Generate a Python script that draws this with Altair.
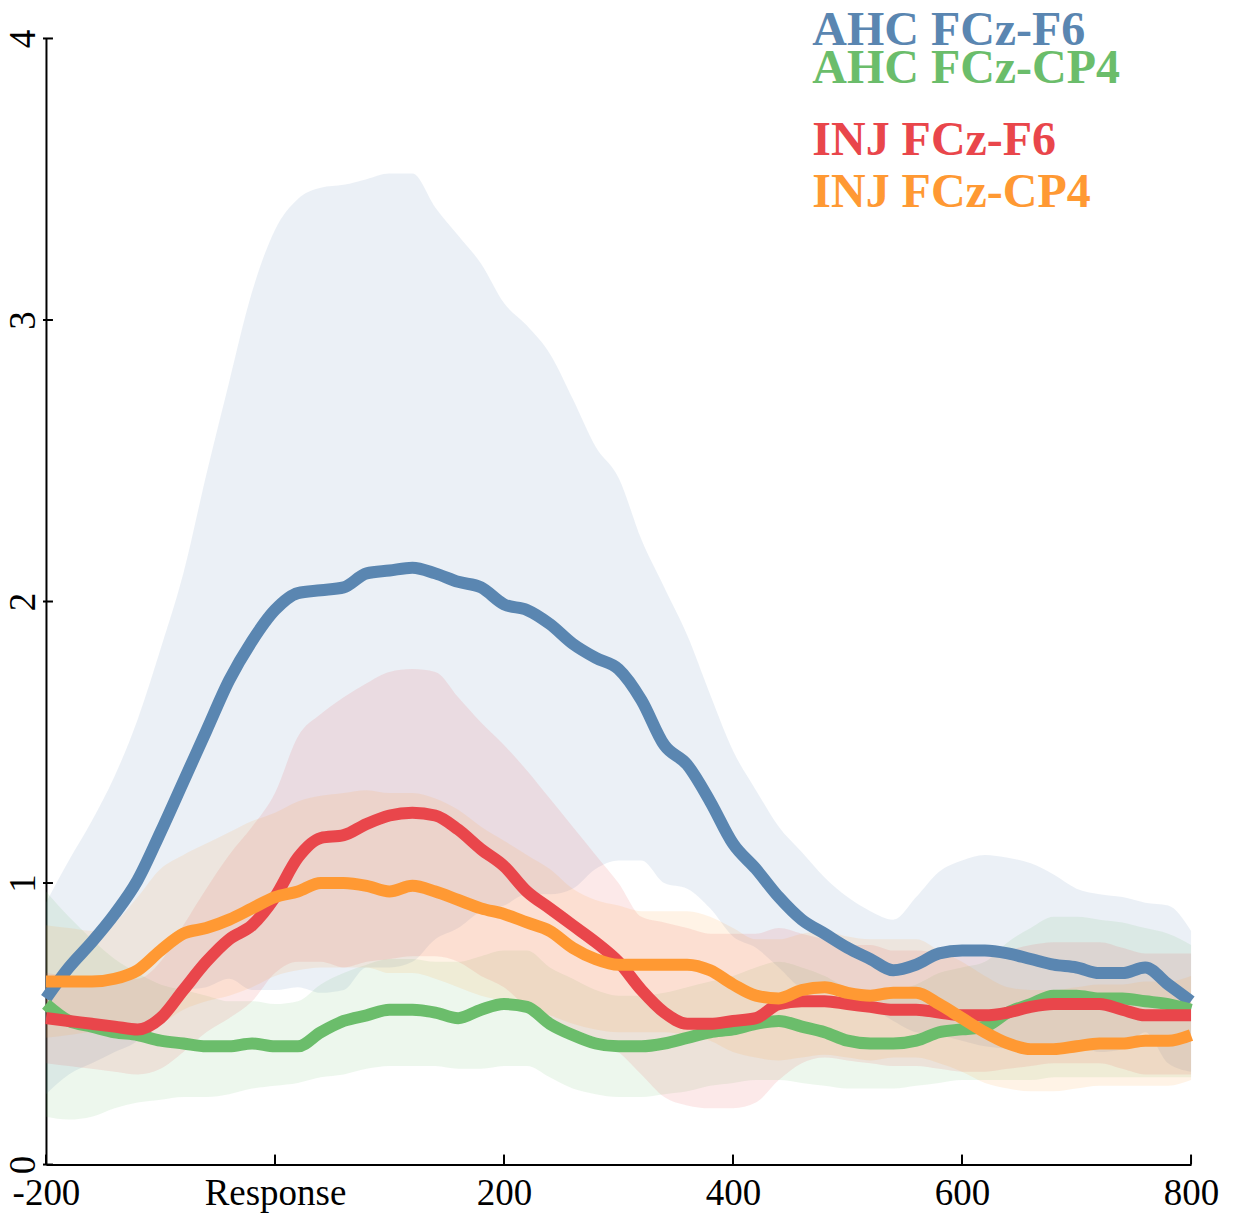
import altair as alt
import pandas as pd

# time grid (ms)
t = list(range(-200, 801, 20))

series_names = ["AHC FCz-F6", "AHC FCz-CP4", "INJ FCz-F6", "INJ FCz-CP4"]
series_colors = ["#5A86B1", "#6BBD6B", "#E9464B", "#FF9933"]

ahc_f6_mean = [0.59,0.70,0.79,0.89,1.01,1.18,1.36,1.54,1.72,1.86,1.97,2.03,2.04,2.05,2.10,2.11,2.12,2.10,2.07,2.05,
               1.99,1.97,1.92,1.85,1.80,1.76,1.65,1.49,1.42,1.29,1.14,1.05,0.95,0.87,0.82,0.77,0.73,0.69,0.71,0.75,
               0.76,0.76,0.75,0.73,0.71,0.70,0.68,0.68,0.70,0.64,0.58]
ahc_f6_hi = [0.93,1.08,1.22,1.38,1.58,1.83,2.10,2.45,2.78,3.10,3.32,3.43,3.47,3.48,3.50,3.52,3.52,3.40,3.30,3.20,
             3.06,2.98,2.88,2.72,2.55,2.44,2.22,2.05,1.88,1.67,1.47,1.33,1.20,1.11,1.02,0.95,0.90,0.87,0.95,1.04,
             1.08,1.10,1.09,1.07,1.03,0.98,0.96,0.95,0.93,0.92,0.83]
ahc_f6_lo = [0.25,0.32,0.36,0.40,0.44,0.53,0.62,0.63,0.66,0.62,0.62,0.63,0.61,0.62,0.70,0.70,0.72,0.80,0.84,0.90,
             0.92,0.96,0.96,0.98,1.05,1.08,1.08,1.00,0.98,0.91,0.81,0.77,0.70,0.63,0.62,0.59,0.56,0.51,0.47,0.46,
             0.44,0.42,0.41,0.39,0.39,0.42,0.40,0.41,0.47,0.36,0.33]

ahc_cp4_mean = [0.57,0.51,0.49,0.47,0.46,0.44,0.43,0.42,0.42,0.43,0.42,0.42,0.47,0.51,0.53,0.55,0.55,0.54,0.52,0.55,
                0.57,0.56,0.50,0.46,0.43,0.42,0.42,0.43,0.45,0.47,0.48,0.50,0.51,0.49,0.47,0.44,0.43,0.43,0.44,0.47,
                0.48,0.49,0.54,0.57,0.60,0.60,0.59,0.59,0.58,0.57,0.55]
ahc_cp4_hi = [0.97,0.88,0.80,0.73,0.68,0.64,0.62,0.60,0.58,0.58,0.57,0.58,0.64,0.68,0.71,0.73,0.73,0.72,0.72,0.74,
              0.76,0.76,0.70,0.66,0.62,0.60,0.60,0.61,0.63,0.65,0.67,0.70,0.72,0.70,0.67,0.63,0.62,0.62,0.64,0.68,
              0.70,0.72,0.79,0.84,0.88,0.88,0.87,0.86,0.84,0.82,0.78]
ahc_cp4_lo = [0.17,0.16,0.17,0.20,0.22,0.23,0.24,0.24,0.25,0.27,0.28,0.29,0.31,0.32,0.34,0.35,0.35,0.35,0.34,0.34,
              0.35,0.35,0.31,0.27,0.25,0.24,0.24,0.25,0.26,0.28,0.29,0.30,0.30,0.29,0.28,0.27,0.27,0.27,0.28,0.29,
              0.30,0.30,0.30,0.30,0.31,0.31,0.31,0.31,0.31,0.31,0.31]

inj_f6_mean = [0.52,0.51,0.50,0.49,0.48,0.52,0.62,0.72,0.80,0.85,0.95,1.09,1.16,1.17,1.21,1.24,1.25,1.24,1.19,1.12,
               1.06,0.97,0.91,0.85,0.79,0.72,0.62,0.54,0.50,0.50,0.51,0.52,0.57,0.58,0.58,0.57,0.56,0.55,0.55,0.54,
               0.53,0.53,0.54,0.56,0.57,0.57,0.57,0.55,0.53,0.53,0.53]
inj_f6_hi = [0.68,0.67,0.66,0.66,0.66,0.72,0.85,0.98,1.10,1.20,1.32,1.52,1.60,1.66,1.71,1.75,1.76,1.75,1.66,1.57,
             1.49,1.40,1.30,1.20,1.10,1.00,0.88,0.86,0.84,0.82,0.82,0.82,0.84,0.82,0.80,0.78,0.78,0.76,0.76,0.75,
             0.74,0.74,0.76,0.78,0.79,0.79,0.79,0.77,0.75,0.75,0.75]
inj_f6_lo = [0.36,0.35,0.34,0.33,0.32,0.34,0.40,0.47,0.52,0.58,0.68,0.72,0.72,0.70,0.72,0.73,0.74,0.74,0.72,0.67,
             0.63,0.56,0.52,0.48,0.45,0.40,0.32,0.24,0.21,0.20,0.20,0.22,0.30,0.36,0.38,0.37,0.36,0.35,0.35,0.34,
             0.33,0.33,0.34,0.35,0.36,0.36,0.36,0.34,0.32,0.32,0.32]

inj_cp4_mean = [0.65,0.65,0.65,0.66,0.69,0.76,0.82,0.84,0.87,0.91,0.95,0.97,1.00,1.00,0.99,0.97,0.99,0.97,0.94,0.91,
                0.89,0.86,0.83,0.77,0.73,0.71,0.71,0.71,0.71,0.69,0.64,0.60,0.59,0.62,0.63,0.61,0.60,0.61,0.61,0.57,
                0.52,0.47,0.43,0.41,0.41,0.42,0.43,0.43,0.44,0.44,0.46]
inj_cp4_hi = [0.85,0.84,0.83,0.86,0.95,1.05,1.10,1.14,1.18,1.22,1.25,1.29,1.31,1.32,1.33,1.32,1.32,1.30,1.26,1.20,
              1.15,1.10,1.05,0.98,0.94,0.92,0.90,0.90,0.90,0.88,0.84,0.80,0.80,0.82,0.83,0.81,0.80,0.80,0.80,0.76,
              0.72,0.67,0.63,0.62,0.62,0.63,0.64,0.64,0.65,0.65,0.67]
inj_cp4_lo = [0.45,0.46,0.47,0.47,0.48,0.50,0.55,0.58,0.60,0.63,0.67,0.69,0.70,0.70,0.70,0.68,0.68,0.66,0.63,0.60,
              0.58,0.55,0.53,0.50,0.48,0.47,0.47,0.47,0.46,0.44,0.40,0.38,0.37,0.38,0.39,0.38,0.37,0.38,0.38,0.36,
              0.33,0.29,0.27,0.26,0.26,0.27,0.28,0.28,0.28,0.28,0.30]

x_tick_values = [-200, 0, 200, 400, 600, 800]
y_tick_values = [0, 1, 2, 3, 4]

W, H = 1146, 1127
FONT = "Liberation Serif"

series_data = [
    (ahc_f6_mean, ahc_f6_lo, ahc_f6_hi),
    (ahc_cp4_mean, ahc_cp4_lo, ahc_cp4_hi),
    (inj_f6_mean, inj_f6_lo, inj_f6_hi),
    (inj_cp4_mean, inj_cp4_lo, inj_cp4_hi),
]

x_scale = alt.Scale(domain=[-200, 800], nice=False, zero=False)
y_scale = alt.Scale(domain=[0, 4], nice=False)

x_axis = alt.Axis(values=x_tick_values, ticks=False, grid=False, title=None,
                  labelExpr="datum.value == 0 ? 'Response' : (datum.value < 0 ? '-' + abs(datum.value) : '' + datum.value)",
                  labelFont=FONT, labelFontSize=37, labelColor="black",
                  labelPadding=11, domainColor="black", domainWidth=2,
                  labelFlush=False, labelOverlap=False)
y_axis = alt.Axis(values=y_tick_values, ticks=False, grid=False, title=None,
                  format="d",
                  labelAngle=270, labelAlign="center", labelBaseline="bottom",
                  labelFont=FONT, labelFontSize=37, labelColor="black",
                  labelPadding=3, domainColor="black", domainWidth=2,
                  labelFlush=False, labelOverlap=False)

bands = []
lines = []
for name, color, (m, lo, hi) in zip(series_names, series_colors, series_data):
    df = pd.DataFrame({"t": t, "mean": m, "lo": lo, "hi": hi})
    base = alt.Chart(df)
    bands.append(
        base.mark_area(color=color, opacity=0.12, interpolate="monotone").encode(
            x=alt.X("t:Q", scale=x_scale, axis=x_axis),
            y=alt.Y("lo:Q", scale=y_scale, axis=y_axis),
            y2="hi:Q",
        )
    )
    lines.append(
        base.mark_line(color=color, strokeWidth=12, interpolate="monotone").encode(
            x=alt.X("t:Q", scale=x_scale),
            y=alt.Y("mean:Q", scale=y_scale),
        )
    )

xticks = alt.Chart(pd.DataFrame({"t": x_tick_values})).mark_rule(color="black", strokeWidth=2).encode(
    x=alt.X("t:Q", scale=x_scale), y=alt.value(H), y2=alt.value(H - 10)
)
yticks = alt.Chart(pd.DataFrame({"v": y_tick_values})).mark_rule(color="black", strokeWidth=2).encode(
    y=alt.Y("v:Q", scale=y_scale), x=alt.value(-3), x2=alt.value(7)
)

legend_y = [7, 45, 117, 169]
legend_layers = []
for name, color, yy in zip(series_names, series_colors, legend_y):
    legend_layers.append(
        alt.Chart(pd.DataFrame({"label": [name]})).mark_text(
            font=FONT, fontWeight="bold", fontSize=48, align="left",
            baseline="alphabetic", color=color
        ).encode(text="label:N", x=alt.value(767), y=alt.value(yy))
    )

chart = alt.layer(*bands, *lines, xticks, yticks, *legend_layers).properties(
    width=W, height=H,
    background="white",
    padding={"left": 38, "top": 30, "right": 40, "bottom": 50},
    autosize=alt.AutoSizeParams(type="none"),
).configure_view(strokeWidth=0, stroke="transparent")

chart.save("out.html", embed_options={"renderer": "svg", "actions": False})
